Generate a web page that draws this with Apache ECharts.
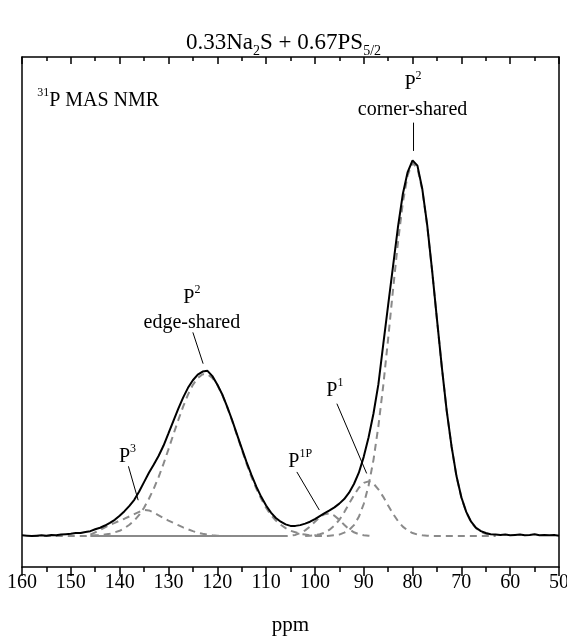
<!DOCTYPE html>
<html><head><meta charset="utf-8">
<script src="https://cdn.jsdelivr.net/npm/echarts@6/dist/echarts.min.js"></script>
<style>html,body{margin:0;padding:0;background:#fff}#c{width:567px;height:637px}</style>
</head><body><div id="c"></div>
<script>
// ---- experimental spectrum (ppm, normalised intensity) ----
const specPpm = [160,159,158,157,156,155,154,153,152,151,
150,149,148,147,146,145,144,143,142,141,
140,139,138,137,136,135,134,133,132,131,
130,129,128,127,126,125,124,123,122,121,
120,119,118,117,116,115,114,113,112,111,
110,109,108,107,106,105,104,103,102,101,
100,99,98,97,96,95,94,93,92,91,
90,89,88,87,86,85,84,83,82,81,
80,79,78,77,76,75,74,73,72,71,
70,69,68,67,66,65,64,63,62,61,
60,59,58,57,56,55,54,53,52,51,50];
const specInt = [0.002,0.001,0.000,0.001,0.002,0.001,0.003,0.002,0.004,0.005,
0.006,0.008,0.008,0.011,0.013,0.018,0.022,0.028,0.035,0.043,
0.054,0.066,0.080,0.096,0.118,0.143,0.168,0.190,0.213,0.240,
0.272,0.305,0.337,0.367,0.393,0.413,0.428,0.436,0.438,0.424,
0.402,0.376,0.344,0.309,0.271,0.233,0.196,0.162,0.131,0.104,
0.081,0.062,0.048,0.038,0.031,0.027,0.027,0.029,0.033,0.038,
0.045,0.053,0.061,0.068,0.076,0.086,0.098,0.115,0.138,0.168,
0.210,0.262,0.325,0.402,0.508,0.612,0.715,0.818,0.906,0.965,
0.996,0.982,0.920,0.825,0.705,0.575,0.448,0.332,0.237,0.159,
0.103,0.064,0.038,0.022,0.013,0.008,0.005,0.004,0.003,0.004,
0.002,0.003,0.004,0.002,0.003,0.005,0.002,0.003,0.002,0.003,0.001];

// ---- fitted components ----
const p3Ppm = [146,145,144,143,142,141,140,139,138,137,136,135,134,133,132,131,130,129,128,127,126,125,124,123,122,121,120,118,106];
const p3Int = [0.004,0.010,0.016,0.023,0.030,0.035,0.041,0.046,0.052,0.058,0.064,0.069,0.068,0.062,0.055,0.048,0.041,0.035,0.029,0.023,0.018,0.013,0.009,0.006,0.004,0.002,0.001,0,0];

const edgePpm = [158,147,146,145,144,143,142,141,140,139,138,137,136,135,134,133,132,131,130,129,128,127,126,125,124,123,122,121,120,119,118,117,116,115,114,113,112,111,110,109,108,107,106,105,104,103,102,101,100,99,98];
const edgeInt = [0,0,0.001,0.002,0.002,0.004,0.006,0.010,0.014,0.021,0.030,0.041,0.056,0.075,0.099,0.126,0.157,0.192,0.230,0.269,0.307,0.343,0.375,0.401,0.419,0.429,0.429,0.419,0.401,0.375,0.343,0.307,0.269,0.230,0.192,0.157,0.126,0.099,0.075,0.056,0.041,0.030,0.021,0.014,0.010,0.006,0.004,0.002,0.002,0.001,0];

const p1pPpm = [107,106,105,104,103,102,101,100,99,98,97,96,95,94,93,92,91,90,89,88];
const p1pInt = [0,0,0.001,0.003,0.008,0.015,0.025,0.038,0.050,0.058,0.060,0.054,0.043,0.030,0.018,0.010,0.005,0.002,0.001,0];

const p1Ppm = [102,101,100,99,98,97,96,95,94,93,92,91,90,89,88,87,86,85,84,83,82,81,80,79,78,77,76,63];
const p1Int = [0,0.001,0.002,0.005,0.009,0.017,0.028,0.043,0.063,0.086,0.108,0.128,0.141,0.145,0.139,0.124,0.104,0.081,0.059,0.040,0.025,0.015,0.008,0.004,0.002,0.001,0,0];

const cornerPpm = [100,98,97,96,95,94,93,92,91,90,89,88,87,86,85,84,83,82,81,80,79,78,77,76,75,74,73,72,71,70,69,68,67,66,65,64,63];
const cornerInt = [0,0,0.001,0.002,0.004,0.009,0.016,0.029,0.051,0.085,0.134,0.202,0.291,0.399,0.523,0.653,0.777,0.883,0.957,0.989,0.975,0.917,0.823,0.704,0.574,0.448,0.332,0.236,0.158,0.102,0.063,0.037,0.021,0.011,0.006,0.003,0.001];

// solid fit baseline segment
const basePpm = [146,106];
const baseInt = [0,0];

// ---- axis ----
const xMin = 50, xMax = 160, xStep = 10;
const yMin = -0.082, yMax = 1.27;

// ---- annotations (data coordinates) ----
const annoText = [
  '{sup|31}{n|P MAS NMR}',
  '{n|P}{sup|2}',
  '{n|corner-shared}',
  '{n|P}{sup|2}',
  '{n|edge-shared}',
  '{n|P}{sup|3}',
  '{n|P}{sup|1P}',
  '{n|P}{sup|1}'
];
const annoPos = [[156.9,1.153],[79.9,1.198],[80.0,1.13],[125.2,0.632],[125.2,0.566],[138.4,0.209],[103.0,0.196],[95.9,0.384]];
const annoAlign = ['left','center','center','center','center','center','center','center'];
const leaders = [
  [[79.8,1.096],[79.8,1.021]],
  [[125.0,0.540],[122.9,0.457]],
  [[138.2,0.185],[136.2,0.095]],
  [[103.7,0.170],[99.1,0.069]],
  [[95.5,0.351],[89.4,0.166]]
];

const FONT = '"Liberation Serif","Times New Roman",serif';
const richStyle = {
  n: {fontSize: 20, fontFamily: FONT, color: '#000', lineHeight: 28, verticalAlign: 'middle'},
  sup: {fontSize: 12, fontFamily: FONT, color: '#000', lineHeight: 12, verticalAlign: 'top'},
  sub: {fontSize: 12, fontFamily: FONT, color: '#000', lineHeight: 12, verticalAlign: 'bottom'}
};

function pairs(xs, ys){ return xs.map((x,i)=>[x, ys[i]]); }

const dashStyle = {color: '#8a8a8a', width: 2, type: [7,5]};
const series = [];
series.push({type:'line', data: pairs(basePpm, baseInt), showSymbol:false, symbol:'none', lineStyle:{color:'#8a8a8a', width:2}, z: 1, silent:true});
[[edgePpm,edgeInt],[p3Ppm,p3Int],[p1pPpm,p1pInt],[p1Ppm,p1Int],[cornerPpm,cornerInt]].forEach(c=>{
  series.push({type:'line', data: pairs(c[0],c[1]), showSymbol:false, symbol:'none', lineStyle: dashStyle, z: 2, silent:true});
});
series.push({type:'line', data: pairs(specPpm, specInt), showSymbol:false, symbol:'none', lineStyle:{color:'#000', width:2}, z: 5, silent:true});
leaders.forEach(l=>{
  series.push({type:'line', data: l, showSymbol:false, symbol:'none', lineStyle:{color:'#000', width:1}, z: 6, silent:true});
});
series.push({
  type:'scatter', symbolSize: 1, itemStyle:{color:'rgba(0,0,0,0)'}, z: 7, silent:true,
  data: annoPos.map((p,i)=>({value:p, label:{show:true, position:'inside', align: annoAlign[i], verticalAlign:'middle',
    color:'#000', textBorderWidth:0, opacity:1, formatter: annoText[i], rich: richStyle}}))
});

const chart = echarts.init(document.getElementById('c'), null, {renderer:'canvas'});
chart.setOption({
  animation: false,
  backgroundColor: '#fff',
  title: {
    text: '{n|0.33Na}{sub|2}{n|S + 0.67PS}{sub|5/2}',
    left: 'center', top: 23,
    textStyle: {fontWeight:'normal', rich: {
      n: {fontSize: 23, fontFamily: FONT, fontWeight:'normal', color:'#000', lineHeight: 30, verticalAlign:'middle'},
      sub: {fontSize: 14, fontFamily: FONT, fontWeight:'normal', color:'#000', lineHeight: 14, verticalAlign:'bottom'}
    }}
  },
  grid: {left: 22, right: 8, top: 57, bottom: 70, containLabel: false, outerBoundsMode: 'none'},
  xAxis: [{
    type:'value', min:xMin, max:xMax, interval:xStep, inverse:true, position:'bottom',
    axisLine:{show:true, onZero:false, lineStyle:{color:'#000', width:1.5}},
    axisTick:{show:true, inside:false, length:9, lineStyle:{color:'#000', width:1.5}},
    minorTick:{show:true, splitNumber:2, length:5, lineStyle:{color:'#000', width:1.5}},
    axisLabel:{color:'#000', fontSize:20, fontFamily:FONT, margin:6, hideOverlap:false},
    splitLine:{show:false},
    name:'ppm', nameLocation:'middle', nameGap:48,
    nameTextStyle:{color:'#000', fontSize:21, fontFamily:FONT}
  },{
    type:'value', min:xMin, max:xMax, interval:xStep, inverse:true, position:'top',
    axisLine:{show:true, onZero:false, lineStyle:{color:'#000', width:1.5}},
    axisTick:{show:true, inside:true, length:7, lineStyle:{color:'#000', width:1.5}},
    minorTick:{show:true, splitNumber:2, length:4, lineStyle:{color:'#000', width:1.5}},
    axisLabel:{show:false}, splitLine:{show:false}
  }],
  yAxis: [{
    type:'value', min:yMin, max:yMax, position:'left',
    axisLine:{show:true, onZero:false, lineStyle:{color:'#000', width:1.5}},
    axisTick:{show:false}, axisLabel:{show:false}, splitLine:{show:false}
  },{
    type:'value', min:yMin, max:yMax, position:'right',
    axisLine:{show:true, onZero:false, lineStyle:{color:'#000', width:1.5}},
    axisTick:{show:false}, axisLabel:{show:false}, splitLine:{show:false}
  }],
  series: series
});
</script></body></html>
